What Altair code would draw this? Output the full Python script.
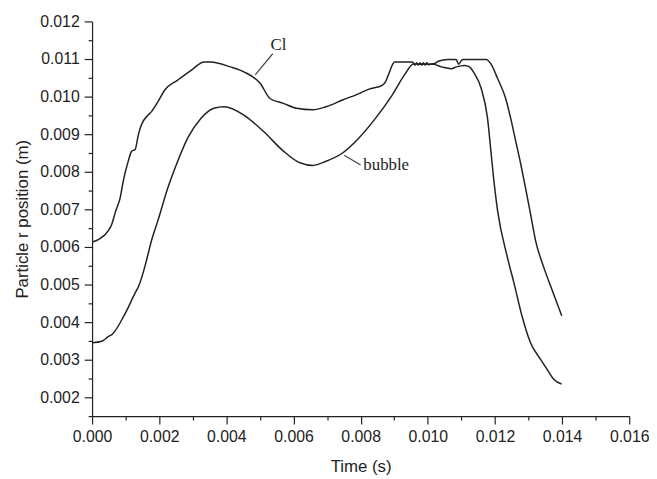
import altair as alt
import pandas as pd

# ---- data (time in s, radial position in m) ----
cl_t = [0.0, 0.00020, 0.00049, 0.00059, 0.00069, 0.00084, 0.00093, 0.00108, 0.00118, 0.00128,
        0.00138, 0.00147, 0.00167, 0.00177, 0.00196, 0.00216, 0.00255, 0.00295, 0.00334, 0.00353,
        0.00412, 0.00452, 0.00501, 0.00530, 0.00570, 0.00609, 0.00658, 0.00697, 0.00746, 0.00795,
        0.00825, 0.00864, 0.00874, 0.00884, 0.00901, 0.00952, 0.00957, 0.00962, 0.00967, 0.00972,
        0.00977, 0.00982, 0.00987, 0.00992, 0.00997, 0.01002, 0.01010, 0.01020, 0.01031, 0.01060,
        0.01080, 0.01085, 0.01092, 0.01100, 0.01105, 0.01174, 0.01188, 0.01208, 0.01232, 0.01247,
        0.01262, 0.01277, 0.01291, 0.01306, 0.01321, 0.01345, 0.01370, 0.01399]
cl_r = [0.00613, 0.00620, 0.00644, 0.00661, 0.00692, 0.00732, 0.00776, 0.00829, 0.00855, 0.00859,
        0.00899, 0.00925, 0.00951, 0.00960, 0.00986, 0.01017, 0.01044, 0.01070, 0.01092, 0.01092,
        0.01079, 0.01066, 0.01035, 0.00995, 0.00982, 0.00969, 0.00965, 0.00973, 0.00991, 0.01008,
        0.01020, 0.01030, 0.01039, 0.01061, 0.01092, 0.01092, 0.01090, 0.01084, 0.01090, 0.01084,
        0.01090, 0.01084, 0.01090, 0.01084, 0.01090, 0.01085, 0.01087, 0.01088, 0.01094, 0.01099,
        0.01099, 0.01098, 0.01086, 0.01096, 0.01099, 0.01099, 0.01087, 0.01048, 0.00995, 0.00942,
        0.00881, 0.00820, 0.00758, 0.00688, 0.00617, 0.00547, 0.00486, 0.00417]

bub_t = [0.0, 0.00029, 0.00049, 0.00059, 0.00098, 0.00128, 0.00138, 0.00157, 0.00167, 0.00177,
         0.00196, 0.00226, 0.00255, 0.00285, 0.00324, 0.00363, 0.00393, 0.00452, 0.00511, 0.00570,
         0.00619, 0.00658, 0.00697, 0.00746, 0.00795, 0.00844, 0.00894, 0.00933, 0.00957, 0.00980,
         0.01016, 0.01041, 0.01070, 0.01085, 0.01110, 0.01124, 0.01139, 0.01159, 0.01178, 0.01188,
         0.01198, 0.01208, 0.01237, 0.01257, 0.01281, 0.01306, 0.01336, 0.01355, 0.01375, 0.01399]
bub_r = [0.00345, 0.00349, 0.00362, 0.00367, 0.00422, 0.00477, 0.00494, 0.00547, 0.00582, 0.00617,
         0.00670, 0.00758, 0.00828, 0.00890, 0.00942, 0.00969, 0.00973, 0.00951, 0.00907, 0.00855,
         0.00824, 0.00817, 0.00828, 0.00850, 0.00890, 0.00942, 0.01004, 0.01061, 0.01087, 0.01086,
         0.01086, 0.01079, 0.01074, 0.01079, 0.01083, 0.01079, 0.01061, 0.01022, 0.00942, 0.00855,
         0.00767, 0.00696, 0.00573, 0.00503, 0.00415, 0.00345, 0.00301, 0.00275, 0.00248, 0.00235]

# annotation labels and leader lines (data coordinates)
label_text = ["Cl", "bubble"]
label_t = [0.00555, 0.00808]
label_r = [0.01137, 0.00818]
label_align = ["center", "left"]
lead_t1 = [0.00538, 0.00751]
lead_r1 = [0.01114, 0.00844]
lead_t2 = [0.00486, 0.00800]
lead_r2 = [0.01058, 0.00818]

# axis ticks: majors get labels and long ticks, the rest are short minor ticks
x_ticks = [0.0, 0.001, 0.002, 0.003, 0.004, 0.005, 0.006, 0.007, 0.008, 0.009, 0.010,
           0.011, 0.012, 0.013, 0.014, 0.015, 0.016]
y_ticks = [0.0015, 0.002, 0.0025, 0.003, 0.0035, 0.004, 0.0045, 0.005, 0.0055, 0.006, 0.0065,
           0.007, 0.0075, 0.008, 0.0085, 0.009, 0.0095, 0.010, 0.0105, 0.011, 0.0115, 0.012]

# ---- build tables ----
df = pd.concat([
    pd.DataFrame({"t": cl_t, "r": cl_r, "series": "Cl", "o": range(len(cl_t))}),
    pd.DataFrame({"t": bub_t, "r": bub_r, "series": "bubble", "o": range(len(bub_t))}),
])
lab = pd.DataFrame({"t": label_t, "r": label_r, "text": label_text, "align": label_align})
lead = pd.DataFrame({"t": lead_t1, "r": lead_r1, "t2": lead_t2, "r2": lead_r2})

xs = alt.Scale(domain=[0, 0.016], nice=False, zero=False)
ys = alt.Scale(domain=[0.0015, 0.012], nice=False, zero=False)

SANS = "Liberation Sans"
SERIF = "Liberation Serif"
INK = "#222222"

x_major = "round(datum.value * 10000) % 20 == 0"
y_major = "round(datum.value * 10000) % 10 == 0 && datum.value > 0.0016"

x_axis = alt.Axis(values=x_ticks, tickCount=60, title="Time (s)", orient="bottom",
                  labelExpr=f"{x_major} ? format(datum.value, '.3f') : ''",
                  tickSize={"condition": {"test": x_major, "value": 8}, "value": 4},
                  grid=False, labelPadding=5, labelFont=SANS, labelFontSize=16,
                  labelColor=INK, titleFont=SANS, titleFontSize=17, titleFontWeight="normal",
                  titleColor=INK, titlePadding=14, domainColor=INK, tickColor=INK,
                  domainWidth=1.2, tickWidth=1.2, labelFlush=False, labelOverlap=False)
y_axis = alt.Axis(values=y_ticks, tickCount=60, title="Particle r position (m)", orient="left",
                  labelExpr=f"{y_major} ? format(datum.value, '.3f') : ''",
                  tickSize={"condition": {"test": y_major, "value": 8}, "value": 4},
                  grid=False, labelPadding=5, labelFont=SANS, labelFontSize=16,
                  labelColor=INK, titleFont=SANS, titleFontSize=17, titleFontWeight="normal",
                  titleColor=INK, titlePadding=8, domainColor=INK, tickColor=INK,
                  domainWidth=1.2, tickWidth=1.2, labelFlush=False, labelOverlap=False)

lines = alt.Chart(df).mark_line(color=INK, strokeWidth=1.5, interpolate="monotone").encode(
    x=alt.X("t:Q", scale=xs, axis=x_axis),
    y=alt.Y("r:Q", scale=ys, axis=y_axis),
    detail="series:N",
    order="o:Q",
)

leaders = alt.Chart(lead).mark_rule(color="#444444", strokeWidth=1.2).encode(
    x=alt.X("t:Q", scale=xs), y=alt.Y("r:Q", scale=ys),
    x2="t2:Q", y2="r2:Q",
)

texts_c = alt.Chart(lab[lab["align"] == "center"]).mark_text(
    font=SERIF, fontSize=17, color=INK, align="center", baseline="middle"
).encode(x=alt.X("t:Q", scale=xs), y=alt.Y("r:Q", scale=ys), text="text:N")
texts_l = alt.Chart(lab[lab["align"] == "left"]).mark_text(
    font=SERIF, fontSize=17, color=INK, align="left", baseline="middle"
).encode(x=alt.X("t:Q", scale=xs), y=alt.Y("r:Q", scale=ys), text="text:N")

chart = alt.layer(lines, leaders, texts_c, texts_l).properties(
    width=543, height=399,
    autosize=alt.AutoSizeParams(type="none"),
    padding={"left": 85, "top": 11, "right": 20, "bottom": 60},
    background="white",
).configure_view(stroke=None)

chart.save("out.html", embed_options={"renderer": "svg", "actions": False})
